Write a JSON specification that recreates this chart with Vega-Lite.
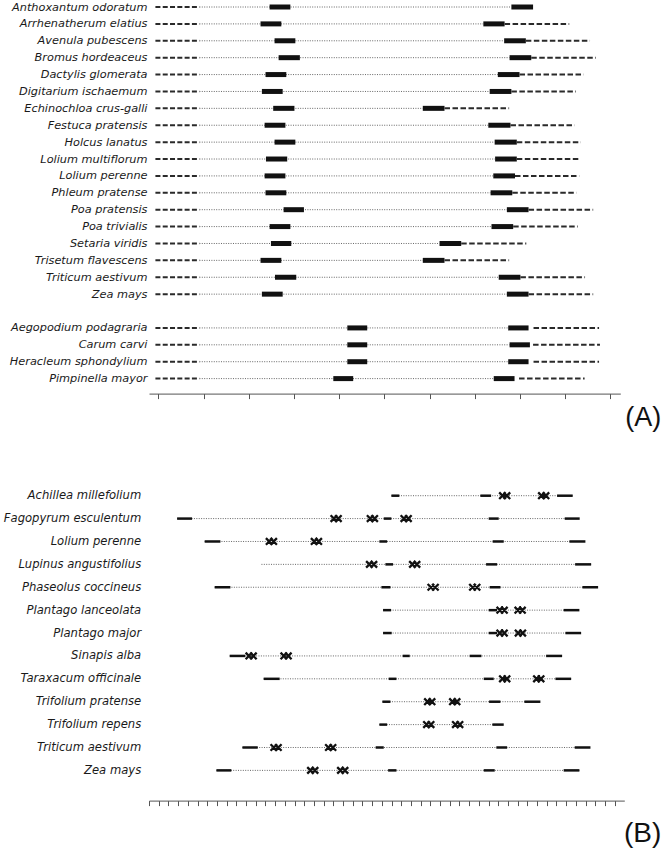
{
  "$schema": "https://vega.github.io/schema/vega-lite/v6.json",
  "padding": {"left": 3, "top": 1, "right": 0, "bottom": 0},
  "bounds": "flush",
  "spacing": 101.7,
  "config": {"view": {"stroke": null}, "axis": {"grid": false}},
  "vconcat": [
    {
      "width": 471.3,
      "height": 386.6,
      "title": {"text": "(A)", "orient": "bottom", "anchor": "end", "frame": "group", "font": "Liberation Sans", "fontSize": 27, "fontWeight": "normal", "color": "#111", "dx": 41, "offset": 6},
      "data": {"values": [
        {"sp": "Anthoxantum odoratum", "ls": -0.066, "le": 0.907, "b1s": 2.46, "b1e": 2.92, "b2s": 7.81, "b2e": 8.29},
        {"sp": "Arrhenatherum elatius", "ls": -0.066, "le": 0.907, "b1s": 2.26, "b1e": 2.72, "b2s": 7.19, "b2e": 7.66, "rs": 7.66, "re": 9.09},
        {"sp": "Avenula pubescens", "ls": -0.066, "le": 0.907, "b1s": 2.57, "b1e": 3.03, "b2s": 7.65, "b2e": 8.13, "rs": 8.13, "re": 9.55},
        {"sp": "Bromus hordeaceus", "ls": -0.066, "le": 0.907, "b1s": 2.66, "b1e": 3.13, "b2s": 7.77, "b2e": 8.25, "rs": 8.25, "re": 9.68},
        {"sp": "Dactylis glomerata", "ls": -0.066, "le": 0.907, "b1s": 2.37, "b1e": 2.83, "b2s": 7.51, "b2e": 7.99, "rs": 7.99, "re": 9.41},
        {"sp": "Digitarium ischaemum", "ls": -0.066, "le": 0.907, "b1s": 2.29, "b1e": 2.75, "b2s": 7.33, "b2e": 7.81, "rs": 7.81, "re": 9.24},
        {"sp": "Echinochloa crus-galli", "ls": -0.066, "le": 0.907, "b1s": 2.54, "b1e": 3.01, "b2s": 5.85, "b2e": 6.33, "rs": 6.33, "re": 7.76},
        {"sp": "Festuca pratensis", "ls": -0.066, "le": 0.907, "b1s": 2.35, "b1e": 2.81, "b2s": 7.30, "b2e": 7.79, "rs": 7.79, "re": 9.21},
        {"sp": "Holcus lanatus", "ls": -0.066, "le": 0.907, "b1s": 2.57, "b1e": 3.03, "b2s": 7.44, "b2e": 7.93, "rs": 7.93, "re": 9.35},
        {"sp": "Lolium multiflorum", "ls": -0.066, "le": 0.907, "b1s": 2.38, "b1e": 2.85, "b2s": 7.45, "b2e": 7.93, "rs": 7.93, "re": 9.31},
        {"sp": "Lolium perenne", "ls": -0.066, "le": 0.907, "b1s": 2.35, "b1e": 2.81, "b2s": 7.41, "b2e": 7.89, "rs": 7.89, "re": 9.31},
        {"sp": "Phleum pratense", "ls": -0.066, "le": 0.907, "b1s": 2.37, "b1e": 2.83, "b2s": 7.35, "b2e": 7.83, "rs": 7.83, "re": 9.25},
        {"sp": "Poa pratensis", "ls": -0.066, "le": 0.907, "b1s": 2.77, "b1e": 3.22, "b2s": 7.71, "b2e": 8.19, "rs": 8.19, "re": 9.62},
        {"sp": "Poa trivialis", "ls": -0.066, "le": 0.907, "b1s": 2.46, "b1e": 2.92, "b2s": 7.37, "b2e": 7.85, "rs": 7.85, "re": 9.28},
        {"sp": "Setaria viridis", "ls": -0.066, "le": 0.907, "b1s": 2.49, "b1e": 2.94, "b2s": 6.22, "b2e": 6.70, "rs": 6.70, "re": 8.14},
        {"sp": "Trisetum flavescens", "ls": -0.066, "le": 0.907, "b1s": 2.26, "b1e": 2.72, "b2s": 5.85, "b2e": 6.33, "rs": 6.33, "re": 7.76},
        {"sp": "Triticum aestivum", "ls": -0.066, "le": 0.907, "b1s": 2.58, "b1e": 3.05, "b2s": 7.53, "b2e": 8.01, "rs": 8.01, "re": 9.44},
        {"sp": "Zea mays", "ls": -0.066, "le": 0.907, "b1s": 2.29, "b1e": 2.75, "b2s": 7.71, "b2e": 8.19, "rs": 8.19, "re": 9.62},
        {"sp": "Aegopodium podagraria", "ls": -0.066, "le": 0.907, "b1s": 4.18, "b1e": 4.62, "b2s": 7.74, "b2e": 8.19, "rs": 8.30, "re": 9.75},
        {"sp": "Carum carvi", "ls": -0.066, "le": 0.907, "b1s": 4.18, "b1e": 4.62, "b2s": 7.77, "b2e": 8.22, "rs": 8.29, "re": 9.77},
        {"sp": "Heracleum sphondylium", "ls": -0.066, "le": 0.907, "b1s": 4.18, "b1e": 4.62, "b2s": 7.74, "b2e": 8.19, "rs": 8.30, "re": 9.75},
        {"sp": "Pimpinella mayor", "ls": -0.066, "le": 0.907, "b1s": 3.87, "b1e": 4.31, "b2s": 7.42, "b2e": 7.88, "rs": 7.98, "re": 9.43}
      ]},
      "encoding": {
        "y": {
          "field": "sp", "type": "nominal", "title": null,
          "scale": {"type": "point", "padding": 0.444, "align": 0, "domain": ["Anthoxantum odoratum", "Arrhenatherum elatius", "Avenula pubescens", "Bromus hordeaceus", "Dactylis glomerata", "Digitarium ischaemum", "Echinochloa crus-galli", "Festuca pratensis", "Holcus lanatus", "Lolium multiflorum", "Lolium perenne", "Phleum pratense", "Poa pratensis", "Poa trivialis", "Setaria viridis", "Trisetum flavescens", "Triticum aestivum", "Zea mays", " ", "Aegopodium podagraria", "Carum carvi", "Heracleum sphondylium", "Pimpinella mayor"]},
          "axis": {"domain": false, "ticks": false, "labelPadding": 2, "labelFont": "DejaVu Sans", "labelFontStyle": "italic", "labelFontSize": 11.3, "labelColor": "#1a1a1a", "labelLimit": 0}
        }
      },
      "layer": [
        {
          "mark": {"type": "rule", "strokeDash": [5, 2.3], "strokeWidth": 2, "color": "#2a2a2a"},
          "encoding": {
            "x": {"field": "ls", "type": "quantitative", "title": null, "scale": {"domain": [-0.208, 10.22], "nice": false, "zero": false}, "axis": {"values": [0, 1, 2, 3, 4, 5, 6, 7, 8, 9, 10], "tickCount": 20, "labels": false, "tickSize": 5, "tickColor": "#555", "domainColor": "#555", "title": null}},
            "x2": {"field": "le"}
          }
        },
        {
          "mark": {"type": "rule", "strokeDash": [1, 1.4], "strokeWidth": 1, "color": "#666"},
          "encoding": {
            "x": {"field": "le", "type": "quantitative", "title": null, "scale": {"domain": [-0.208, 10.22], "nice": false, "zero": false}},
            "x2": {"field": "b2s"}
          }
        },
        {
          "mark": {"type": "rule", "strokeWidth": 5, "color": "#111"},
          "encoding": {
            "x": {"field": "b1s", "type": "quantitative", "title": null, "scale": {"domain": [-0.208, 10.22], "nice": false, "zero": false}},
            "x2": {"field": "b1e"}
          }
        },
        {
          "mark": {"type": "rule", "strokeWidth": 5, "color": "#111"},
          "encoding": {
            "x": {"field": "b2s", "type": "quantitative", "title": null, "scale": {"domain": [-0.208, 10.22], "nice": false, "zero": false}},
            "x2": {"field": "b2e"}
          }
        },
        {
          "mark": {"type": "rule", "strokeDash": [5.5, 2.5], "strokeWidth": 2, "color": "#2a2a2a"},
          "encoding": {
            "x": {"field": "rs", "type": "quantitative", "title": null, "scale": {"domain": [-0.208, 10.22], "nice": false, "zero": false}},
            "x2": {"field": "re"}
          }
        }
      ]
    },
    {
      "width": 475.3,
      "height": 304.9,
      "title": {"text": "(B)", "orient": "bottom", "anchor": "end", "frame": "group", "font": "Liberation Sans", "fontSize": 28, "fontWeight": "normal", "color": "#111", "dx": 37, "offset": 14},
      "data": {"values": [
        {"sp": "Achillea millefolium", "k": "D", "x": 24.99, "x2": 43.68},
        {"sp": "Achillea millefolium", "k": "S", "x": 24.99, "x2": 25.81},
        {"sp": "Achillea millefolium", "k": "S", "x": 34.16, "x2": 35.27},
        {"sp": "Achillea millefolium", "k": "X", "x": 36.67},
        {"sp": "Achillea millefolium", "k": "X", "x": 40.69},
        {"sp": "Achillea millefolium", "k": "S", "x": 42.07, "x2": 43.68},
        {"sp": "Fagopyrum esculentum", "k": "D", "x": 2.90, "x2": 44.40},
        {"sp": "Fagopyrum esculentum", "k": "S", "x": 2.90, "x2": 4.44},
        {"sp": "Fagopyrum esculentum", "k": "X", "x": 19.29},
        {"sp": "Fagopyrum esculentum", "k": "X", "x": 23.03},
        {"sp": "Fagopyrum esculentum", "k": "S", "x": 24.20, "x2": 24.99},
        {"sp": "Fagopyrum esculentum", "k": "X", "x": 26.51},
        {"sp": "Fagopyrum esculentum", "k": "S", "x": 35.02, "x2": 36.05},
        {"sp": "Fagopyrum esculentum", "k": "S", "x": 42.86, "x2": 44.40},
        {"sp": "Lolium perenne", "k": "D", "x": 5.74, "x2": 44.99},
        {"sp": "Lolium perenne", "k": "S", "x": 5.74, "x2": 7.36},
        {"sp": "Lolium perenne", "k": "X", "x": 12.62},
        {"sp": "Lolium perenne", "k": "X", "x": 17.26},
        {"sp": "Lolium perenne", "k": "S", "x": 23.75, "x2": 24.55},
        {"sp": "Lolium perenne", "k": "S", "x": 35.43, "x2": 36.57},
        {"sp": "Lolium perenne", "k": "S", "x": 43.34, "x2": 44.99},
        {"sp": "Lupinus angustifolius", "k": "D", "x": 11.59, "x2": 45.58},
        {"sp": "Lupinus angustifolius", "k": "X", "x": 22.95},
        {"sp": "Lupinus angustifolius", "k": "S", "x": 24.37, "x2": 25.16},
        {"sp": "Lupinus angustifolius", "k": "X", "x": 27.39},
        {"sp": "Lupinus angustifolius", "k": "S", "x": 34.75, "x2": 35.89},
        {"sp": "Lupinus angustifolius", "k": "S", "x": 43.93, "x2": 45.58},
        {"sp": "Phaseolus coccineus", "k": "D", "x": 6.77, "x2": 46.30},
        {"sp": "Phaseolus coccineus", "k": "S", "x": 6.77, "x2": 8.39},
        {"sp": "Phaseolus coccineus", "k": "S", "x": 23.96, "x2": 24.89},
        {"sp": "Phaseolus coccineus", "k": "X", "x": 29.29},
        {"sp": "Phaseolus coccineus", "k": "X", "x": 33.58},
        {"sp": "Phaseolus coccineus", "k": "S", "x": 35.12, "x2": 36.23},
        {"sp": "Phaseolus coccineus", "k": "S", "x": 44.68, "x2": 46.30},
        {"sp": "Plantago lanceolata", "k": "D", "x": 24.13, "x2": 44.37},
        {"sp": "Plantago lanceolata", "k": "S", "x": 24.13, "x2": 24.96},
        {"sp": "Plantago lanceolata", "k": "S", "x": 35.02, "x2": 35.89},
        {"sp": "Plantago lanceolata", "k": "X", "x": 36.40},
        {"sp": "Plantago lanceolata", "k": "X", "x": 38.26},
        {"sp": "Plantago lanceolata", "k": "S", "x": 42.75, "x2": 44.37},
        {"sp": "Plantago major", "k": "D", "x": 24.13, "x2": 44.55},
        {"sp": "Plantago major", "k": "S", "x": 24.13, "x2": 25.02},
        {"sp": "Plantago major", "k": "S", "x": 35.02, "x2": 35.89},
        {"sp": "Plantago major", "k": "X", "x": 36.40},
        {"sp": "Plantago major", "k": "X", "x": 38.29},
        {"sp": "Plantago major", "k": "S", "x": 42.93, "x2": 44.55},
        {"sp": "Sinapis alba", "k": "D", "x": 8.32, "x2": 42.59},
        {"sp": "Sinapis alba", "k": "S", "x": 8.32, "x2": 9.94},
        {"sp": "Sinapis alba", "k": "X", "x": 10.53},
        {"sp": "Sinapis alba", "k": "X", "x": 14.13},
        {"sp": "Sinapis alba", "k": "S", "x": 26.15, "x2": 26.88},
        {"sp": "Sinapis alba", "k": "S", "x": 33.06, "x2": 34.27},
        {"sp": "Sinapis alba", "k": "S", "x": 40.94, "x2": 42.59},
        {"sp": "Taraxacum officinale", "k": "D", "x": 11.82, "x2": 43.52},
        {"sp": "Taraxacum officinale", "k": "S", "x": 11.82, "x2": 13.47},
        {"sp": "Taraxacum officinale", "k": "S", "x": 24.71, "x2": 25.51},
        {"sp": "Taraxacum officinale", "k": "S", "x": 34.51, "x2": 35.54},
        {"sp": "Taraxacum officinale", "k": "X", "x": 36.67},
        {"sp": "Taraxacum officinale", "k": "X", "x": 40.18},
        {"sp": "Taraxacum officinale", "k": "S", "x": 41.90, "x2": 43.52},
        {"sp": "Trifolium pratense", "k": "D", "x": 24.06, "x2": 40.35},
        {"sp": "Trifolium pratense", "k": "S", "x": 24.06, "x2": 24.89},
        {"sp": "Trifolium pratense", "k": "X", "x": 28.94},
        {"sp": "Trifolium pratense", "k": "X", "x": 31.52},
        {"sp": "Trifolium pratense", "k": "S", "x": 35.06, "x2": 36.23},
        {"sp": "Trifolium pratense", "k": "S", "x": 38.70, "x2": 40.35},
        {"sp": "Trifolium repens", "k": "D", "x": 23.75, "x2": 36.57},
        {"sp": "Trifolium repens", "k": "S", "x": 23.75, "x2": 24.55},
        {"sp": "Trifolium repens", "k": "X", "x": 28.84},
        {"sp": "Trifolium repens", "k": "X", "x": 31.82},
        {"sp": "Trifolium repens", "k": "S", "x": 35.40, "x2": 36.57},
        {"sp": "Triticum aestivum", "k": "D", "x": 9.63, "x2": 45.51},
        {"sp": "Triticum aestivum", "k": "S", "x": 9.63, "x2": 11.21},
        {"sp": "Triticum aestivum", "k": "X", "x": 13.10},
        {"sp": "Triticum aestivum", "k": "X", "x": 18.73},
        {"sp": "Triticum aestivum", "k": "S", "x": 23.37, "x2": 24.20},
        {"sp": "Triticum aestivum", "k": "S", "x": 35.81, "x2": 36.92},
        {"sp": "Triticum aestivum", "k": "S", "x": 43.89, "x2": 45.51},
        {"sp": "Zea mays", "k": "D", "x": 6.95, "x2": 44.37},
        {"sp": "Zea mays", "k": "S", "x": 6.95, "x2": 8.49},
        {"sp": "Zea mays", "k": "X", "x": 16.88},
        {"sp": "Zea mays", "k": "X", "x": 19.97},
        {"sp": "Zea mays", "k": "S", "x": 24.65, "x2": 25.51},
        {"sp": "Zea mays", "k": "S", "x": 34.51, "x2": 35.64},
        {"sp": "Zea mays", "k": "S", "x": 42.75, "x2": 44.37}
      ]},
      "encoding": {
        "y": {
          "field": "sp", "type": "nominal", "title": null,
          "scale": {"type": "point", "padding": 0.66, "align": 0, "domain": ["Achillea millefolium", "Fagopyrum esculentum", "Lolium perenne", "Lupinus angustifolius", "Phaseolus coccineus", "Plantago lanceolata", "Plantago major", "Sinapis alba", "Taraxacum officinale", "Trifolium pratense", "Trifolium repens", "Triticum aestivum", "Zea mays"]},
          "axis": {"domain": false, "ticks": false, "labelPadding": 8.3, "labelFont": "DejaVu Sans", "labelFontStyle": "italic", "labelFontSize": 11.6, "labelColor": "#1a1a1a", "labelLimit": 0}
        }
      },
      "layer": [
        {
          "transform": [{"filter": "datum.k === 'D'"}],
          "mark": {"type": "rule", "strokeDash": [1, 1.4], "strokeWidth": 1, "color": "#666"},
          "encoding": {
            "x": {"field": "x", "type": "quantitative", "title": null, "scale": {"domain": [0, 49], "nice": false, "zero": false}, "axis": {"values": [0, 1, 2, 3, 4, 5, 6, 7, 8, 9, 10, 11, 12, 13, 14, 15, 16, 17, 18, 19, 20, 21, 22, 23, 24, 25, 26, 27, 28, 29, 30, 31, 32, 33, 34, 35, 36, 37, 38, 39, 40, 41, 42, 43, 44, 45, 46, 47, 48], "tickCount": 100, "labels": false, "tickSize": 5, "tickColor": "#555", "domainColor": "#555", "title": null}},
            "x2": {"field": "x2"}
          }
        },
        {
          "transform": [{"filter": "datum.k === 'S'"}],
          "mark": {"type": "rule", "strokeWidth": 2.5, "color": "#111"},
          "encoding": {
            "x": {"field": "x", "type": "quantitative", "title": null, "scale": {"domain": [0, 49], "nice": false, "zero": false}},
            "x2": {"field": "x2"}
          }
        },
        {
          "transform": [{"filter": "datum.k === 'X'"}],
          "mark": {"type": "point", "shape": "M-1,-0.6L0.2,0.6M-1,0.6L0.2,-0.6M-0.2,-0.6L1,0.6M-0.2,0.6L1,-0.6", "size": 121, "filled": false, "stroke": "#111", "strokeWidth": 2.3, "opacity": 1},
          "encoding": {
            "x": {"field": "x", "type": "quantitative", "title": null, "scale": {"domain": [0, 49], "nice": false, "zero": false}}
          }
        }
      ]
    }
  ]
}
